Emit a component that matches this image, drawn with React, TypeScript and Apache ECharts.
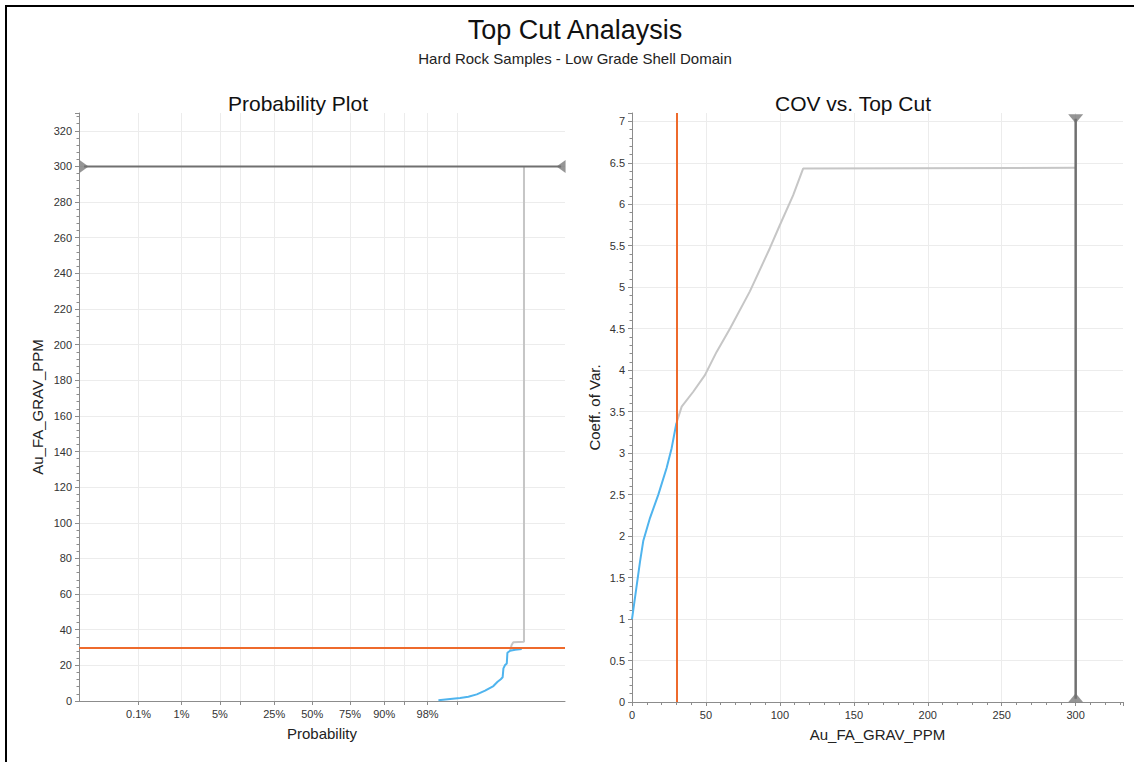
import React, { useEffect, useRef } from "react";
import * as echarts from "echarts";

const mainTitle = "Top Cut Analaysis";
const subTitle = "Hard Rock Samples - Low Grade Shell Domain";
const leftTitle = "Probability Plot";
const rightTitle = "COV vs. Top Cut";
const gradeName = "Au_FA_GRAV_PPM";
const probName = "Probability";
const covName = "Coeff. of Var.";

const topCut = 30;
const maxGrade = 300;

// Probability axis (normal-score scale)
const probTickPct = [0.1, 1, 5, 10, 25, 50, 75, 90, 95, 98, 99.5];
const probLabelPct = [0.1, 1, 5, 25, 50, 75, 90, 98];
const probZMin = -4.15;
const probZMax = 4.5;

// Probability plot curves (normal score, grade)
const belowCutZ = [2.247, 2.456, 2.633, 2.78, 2.93, 3.078, 3.226, 3.3, 3.357, 3.39, 3.404, 3.434, 3.464, 3.475, 3.523, 3.612, 3.73];
const belowCutGrade = [0.4, 1.1, 1.7, 2.4, 3.7, 5.8, 8.4, 10.8, 12.2, 13.3, 18.3, 20.2, 21.1, 27.1, 28.2, 28.8, 29.2];
const aboveCutZ = [3.523, 3.55, 3.58, 3.77, 3.77];
const aboveCutGrade = [28.2, 31.4, 33.0, 33.3, 300];

// COV vs top cut
const covCutBelow = [0, 5.4, 7.6, 12.2, 17.8, 23.4, 26.8, 30];
const covBelow = [1.0, 1.69, 1.94, 2.22, 2.5, 2.82, 3.06, 3.36];
const covCutAbove = [30, 33.6, 41.4, 49.3, 57.2, 66.2, 79.7, 93.2, 100, 109, 115.7, 300];
const covAbove = [3.36, 3.56, 3.74, 3.94, 4.22, 4.5, 4.95, 5.47, 5.75, 6.11, 6.43, 6.44];

const FONT = '"Liberation Sans", Arial, sans-serif';
const BLUE = "#4fb4ee";
const ORANGE = "#ee6a2c";
const GREYCURVE = "#c6c6c6";
const DARK = "#707070";
const AXIS = "#8c8c8c";
const GRID = "#ececec";

function normInv(p: number): number {
  const a = [-3.969683028665376e1, 2.209460984245205e2, -2.759285104469687e2, 1.38357751867269e2, -3.066479806614716e1, 2.506628277459239];
  const b = [-5.447609879822406e1, 1.615962386632907e2, -1.556989798598866e2, 6.680131188771972e1, -1.328068155288572e1];
  const c = [-7.784894002430293e-3, -3.223964580411365e-1, -2.400758277161838, -2.549732539343734, 4.374664141464968, 2.938163982698783];
  const d = [7.784695709041462e-3, 3.224671290700398e-1, 2.445134137142996, 3.754408661907416];
  const pl = 0.02425;
  const ph = 1 - pl;
  let q: number, r: number;
  if (p < pl) {
    q = Math.sqrt(-2 * Math.log(p));
    return (((((c[0] * q + c[1]) * q + c[2]) * q + c[3]) * q + c[4]) * q + c[5]) / ((((d[0] * q + d[1]) * q + d[2]) * q + d[3]) * q + 1);
  }
  if (p <= ph) {
    q = p - 0.5;
    r = q * q;
    return ((((((a[0] * r + a[1]) * r + a[2]) * r + a[3]) * r + a[4]) * r + a[5]) * q) / (((((b[0] * r + b[1]) * r + b[2]) * r + b[3]) * r + b[4]) * r + 1);
  }
  q = Math.sqrt(-2 * Math.log(1 - p));
  return -(((((c[0] * q + c[1]) * q + c[2]) * q + c[3]) * q + c[4]) * q + c[5]) / ((((d[0] * q + d[1]) * q + d[2]) * q + d[3]) * q + 1);
}

const zip = (xs: number[], ys: number[]) => xs.map((x, i) => [x, ys[i]]);

function buildOption() {
  const tickZ = probTickPct.map((p) => normInv(p / 100));
  const labelZ = probLabelPct.map((p) => normInv(p / 100));
  const labelFor = (v: number) => {
    const i = labelZ.findIndex((z) => Math.abs(z - v) < 1e-6);
    return i >= 0 ? probLabelPct[i] + "%" : "";
  };
  const markerZL = probZMin + 0.09;
  const markerZR = probZMax - 0.07;

  const axisCommon = {
    axisLine: { show: true, onZero: false, lineStyle: { color: AXIS, width: 1 } },
    axisTick: { show: true, length: 4, lineStyle: { color: AXIS } },
    axisLabel: { color: "#333", fontSize: 11, fontFamily: FONT, margin: 7 },
    splitLine: { show: true, lineStyle: { color: GRID, width: 1 } },
    nameTextStyle: { color: "#222", fontSize: 15, fontFamily: FONT },
    nameLocation: "middle" as const,
  };

  return {
    animation: false,
    backgroundColor: "#ffffff",
    textStyle: { fontFamily: FONT },
    graphic: [
      { type: "text", x: 575, y: 30, style: { text: mainTitle, align: "center", verticalAlign: "middle", fontSize: 27, fontFamily: FONT, fill: "#111" } },
      { type: "text", x: 575, y: 58, style: { text: subTitle, align: "center", verticalAlign: "middle", fontSize: 15, fontFamily: FONT, fill: "#222" } },
      { type: "text", x: 298, y: 103, style: { text: leftTitle, align: "center", verticalAlign: "middle", fontSize: 21, fontFamily: FONT, fill: "#111" } },
      { type: "text", x: 853, y: 103, style: { text: rightTitle, align: "center", verticalAlign: "middle", fontSize: 21, fontFamily: FONT, fill: "#111" } },
    ],
    grid: [
      { left: 79, top: 113, width: 486, height: 588, outerBoundsMode: "none", containLabel: false },
      { left: 632, top: 113, width: 491, height: 589, outerBoundsMode: "none", containLabel: false },
    ],
    xAxis: [
      {
        ...axisCommon,
        gridIndex: 0,
        type: "value",
        min: probZMin,
        max: probZMax,
        name: probName,
        nameGap: 25,
        splitLine: { show: false },
        axisTick: { show: true, length: 4, lineStyle: { color: AXIS }, customValues: tickZ },
        axisLabel: { ...axisCommon.axisLabel, customValues: labelZ, formatter: (v: number) => labelFor(v) },
      },
      {
        ...axisCommon,
        gridIndex: 1,
        type: "value",
        min: 0,
        max: 332,
        interval: 50,
        name: gradeName,
        nameGap: 25,
        minorTick: { show: true, splitNumber: 5, length: 3, lineStyle: { color: AXIS } },
        axisLabel: { ...axisCommon.axisLabel, showMaxLabel: false },
        splitLine: { show: true, showMaxLine: false, lineStyle: { color: GRID } },
      },
    ],
    yAxis: [
      {
        ...axisCommon,
        gridIndex: 0,
        type: "value",
        min: 0,
        max: 330,
        interval: 20,
        name: gradeName,
        nameGap: 34,
        nameRotate: 90,
        minorTick: { show: true, splitNumber: 5, length: 2.5, lineStyle: { color: AXIS } },
        axisLabel: { ...axisCommon.axisLabel, showMaxLabel: false },
        splitLine: { show: true, showMaxLine: false, lineStyle: { color: GRID } },
      },
      {
        ...axisCommon,
        gridIndex: 1,
        type: "value",
        min: 0,
        max: 7.1,
        interval: 0.5,
        name: covName,
        nameGap: 30,
        nameRotate: 90,
        minorTick: { show: true, splitNumber: 5, length: 2.5, lineStyle: { color: AXIS } },
        axisLabel: { ...axisCommon.axisLabel, showMaxLabel: false },
        splitLine: { show: true, showMaxLine: false, lineStyle: { color: GRID } },
      },
    ],
    series: [
      {
        name: "Grades above cut",
        type: "line",
        xAxisIndex: 0,
        yAxisIndex: 0,
        data: zip(aboveCutZ, aboveCutGrade),
        symbol: "none",
        lineStyle: { color: GREYCURVE, width: 2 },
        markLine: {
          silent: true,
          z: 1,
          symbol: "none",
          label: { show: false },
          lineStyle: { color: GRID, width: 1, type: "solid" },
          data: tickZ.map((z) => ({ xAxis: z })),
        },
      },
      {
        name: "Grades below cut",
        type: "line",
        xAxisIndex: 0,
        yAxisIndex: 0,
        data: zip(belowCutZ, belowCutGrade),
        symbol: "none",
        lineStyle: { color: BLUE, width: 2 },
        markLine: {
          silent: true,
          symbol: "none",
          label: { show: false },
          lineStyle: { color: ORANGE, width: 2, type: "solid" },
          data: [{ yAxis: topCut }],
        },
      },
      {
        name: "Max grade",
        type: "line",
        xAxisIndex: 0,
        yAxisIndex: 0,
        data: [[markerZL, maxGrade], [markerZR, maxGrade]],
        symbol: "none",
        lineStyle: { color: DARK, width: 2 },
      },
      {
        name: "Max grade markers",
        type: "scatter",
        xAxisIndex: 0,
        yAxisIndex: 0,
        symbol: "triangle",
        symbolSize: [13, 9],
        itemStyle: { color: "#7a7a7a" },
        data: [
          { value: [markerZL, maxGrade], symbolRotate: -90 },
          { value: [markerZR, maxGrade], symbolRotate: 90 },
        ],
      },
      {
        name: "COV above cut",
        type: "line",
        xAxisIndex: 1,
        yAxisIndex: 1,
        data: zip(covCutAbove, covAbove),
        symbol: "none",
        lineStyle: { color: GREYCURVE, width: 2 },
      },
      {
        name: "COV below cut",
        type: "line",
        xAxisIndex: 1,
        yAxisIndex: 1,
        data: zip(covCutBelow, covBelow),
        symbol: "none",
        lineStyle: { color: BLUE, width: 2 },
        markLine: {
          silent: true,
          symbol: "none",
          label: { show: false },
          lineStyle: { color: ORANGE, width: 2, type: "solid" },
          data: [{ xAxis: topCut }],
        },
      },
      {
        name: "Max grade line",
        type: "line",
        xAxisIndex: 1,
        yAxisIndex: 1,
        data: [[maxGrade, 0.04], [maxGrade, 7.03]],
        symbol: "none",
        lineStyle: { color: DARK, width: 2.5 },
      },
      {
        name: "Max grade line markers",
        type: "scatter",
        xAxisIndex: 1,
        yAxisIndex: 1,
        symbol: "triangle",
        symbolSize: [15, 9],
        itemStyle: { color: "#7a7a7a" },
        data: [
          { value: [maxGrade, 7.03], symbolRotate: 180 },
          { value: [maxGrade, 0.05], symbolRotate: 0 },
        ],
      },
    ],
  };
}

export default function App() {
  const ref = useRef<HTMLDivElement>(null);
  useEffect(() => {
    const chart = echarts.init(ref.current as HTMLDivElement, null, { renderer: "svg" });
    chart.setOption(buildOption() as any);
    return () => chart.dispose();
  }, []);
  return (
    <div style={{ position: "fixed", left: 0, top: 0, width: 1134, height: 762, background: "#fff", overflow: "hidden" }}>
      <div ref={ref} style={{ position: "absolute", left: 0, top: 0, width: 1134, height: 762 }} />
      <div
        style={{
          position: "absolute",
          left: 5,
          top: 5,
          width: 1140,
          height: 770,
          borderTop: "2px solid #000",
          borderLeft: "2px solid #000",
          pointerEvents: "none",
        }}
      />
    </div>
  );
}
